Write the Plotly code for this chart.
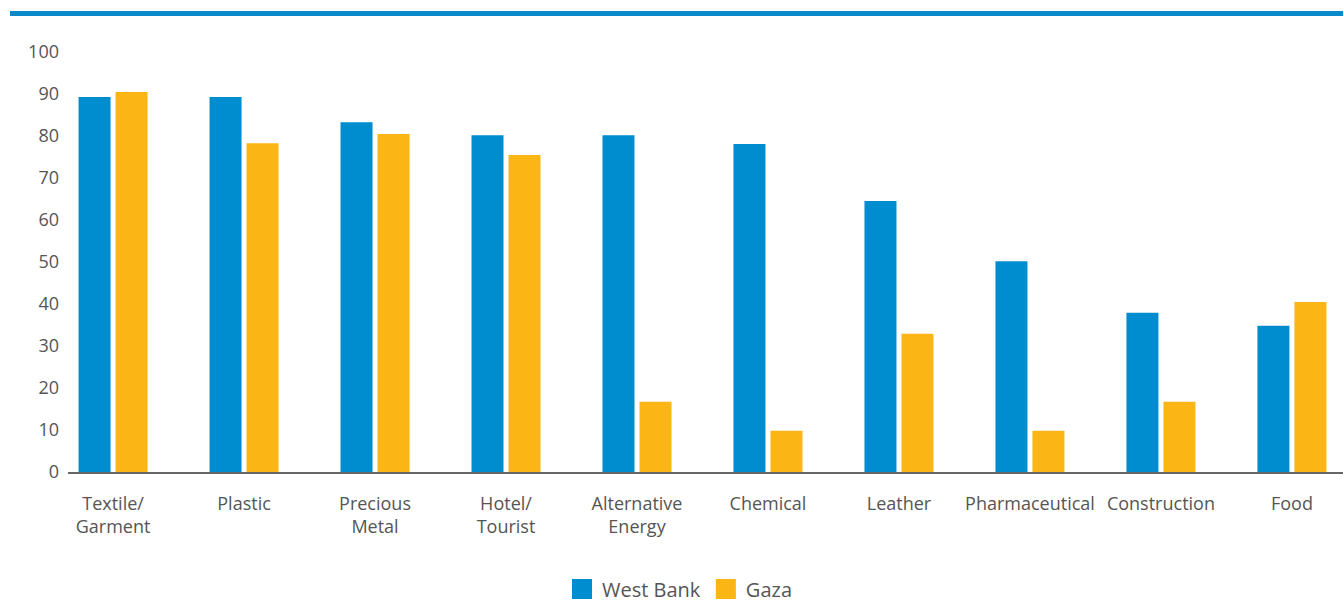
import plotly.graph_objects as go

categories = ["Textile/<br>Garment", "Plastic", "Precious<br>Metal", "Hotel/<br>Tourist",
              "Alternative<br>Energy", "Chemical", "Leather", "Pharmaceutical",
              "Construction", "Food"]
west_bank = [89.3, 89.3, 83.3, 80.2, 80.2, 78.1, 64.5, 50.2, 37.9, 34.8]
gaza = [90.5, 78.3, 80.5, 75.5, 16.7, 9.8, 32.9, 9.8, 16.7, 40.5]
y_ticks = [0, 10, 20, 30, 40, 50, 60, 70, 80, 90, 100]

BLUE = "#008DCF"
GOLD = "#FBB615"
TEXT = "#555555"
FONT = "Open Sans"

fig = go.Figure()
fig.add_trace(go.Bar(x=categories, y=west_bank, name="West Bank", marker_color=BLUE,
                     marker_line_width=0, showlegend=False))
fig.add_trace(go.Bar(x=categories, y=gaza, name="Gaza", marker_color=GOLD,
                     marker_line_width=0, showlegend=False))
# legend entries with larger square swatches
for nm, col in [("West Bank", BLUE), ("Gaza", GOLD)]:
    fig.add_trace(go.Scatter(x=[None], y=[None], mode="markers", name=nm,
                             marker=dict(symbol="square", size=16, color=col,
                                         line=dict(color=col, width=4))))

fig.update_layout(
    width=1343, height=605,
    margin=dict(l=68, r=0, t=52, b=133, autoexpand=False),
    paper_bgcolor="white", plot_bgcolor="white",
    font=dict(family=FONT, size=20, color=TEXT),
    barmode="group", bargap=0.435, bargroupgap=0.135,
    legend=dict(orientation="h", x=0.48, xanchor="center", y=(472 - 589) / 420,
                yanchor="middle", font=dict(size=20, color=TEXT), itemwidth=30,
                tracegroupgap=0),
    xaxis=dict(type="category", range=[-0.344, 9.39], showgrid=False,
               showline=True, linecolor="#666666", linewidth=2,
               ticks="", tickangle=0, ticklabelstandoff=14,
               tickfont=dict(size=18, color=TEXT), automargin=False,
               fixedrange=True),
    yaxis=dict(range=[0, 100], tickvals=y_ticks, showgrid=False, zeroline=False,
               showline=False, ticks="", ticklabelstandoff=8, automargin=False,
               tickfont=dict(size=18, color=TEXT)),
    shapes=[dict(type="line", xref="paper", yref="paper",
                 x0=(10 - 68) / 1275, x1=1.0, y0=(472 - 13.5) / 420, y1=(472 - 13.5) / 420,
                 line=dict(color="#0A8ACB", width=5))],
)

fig.write_html("out.html")
